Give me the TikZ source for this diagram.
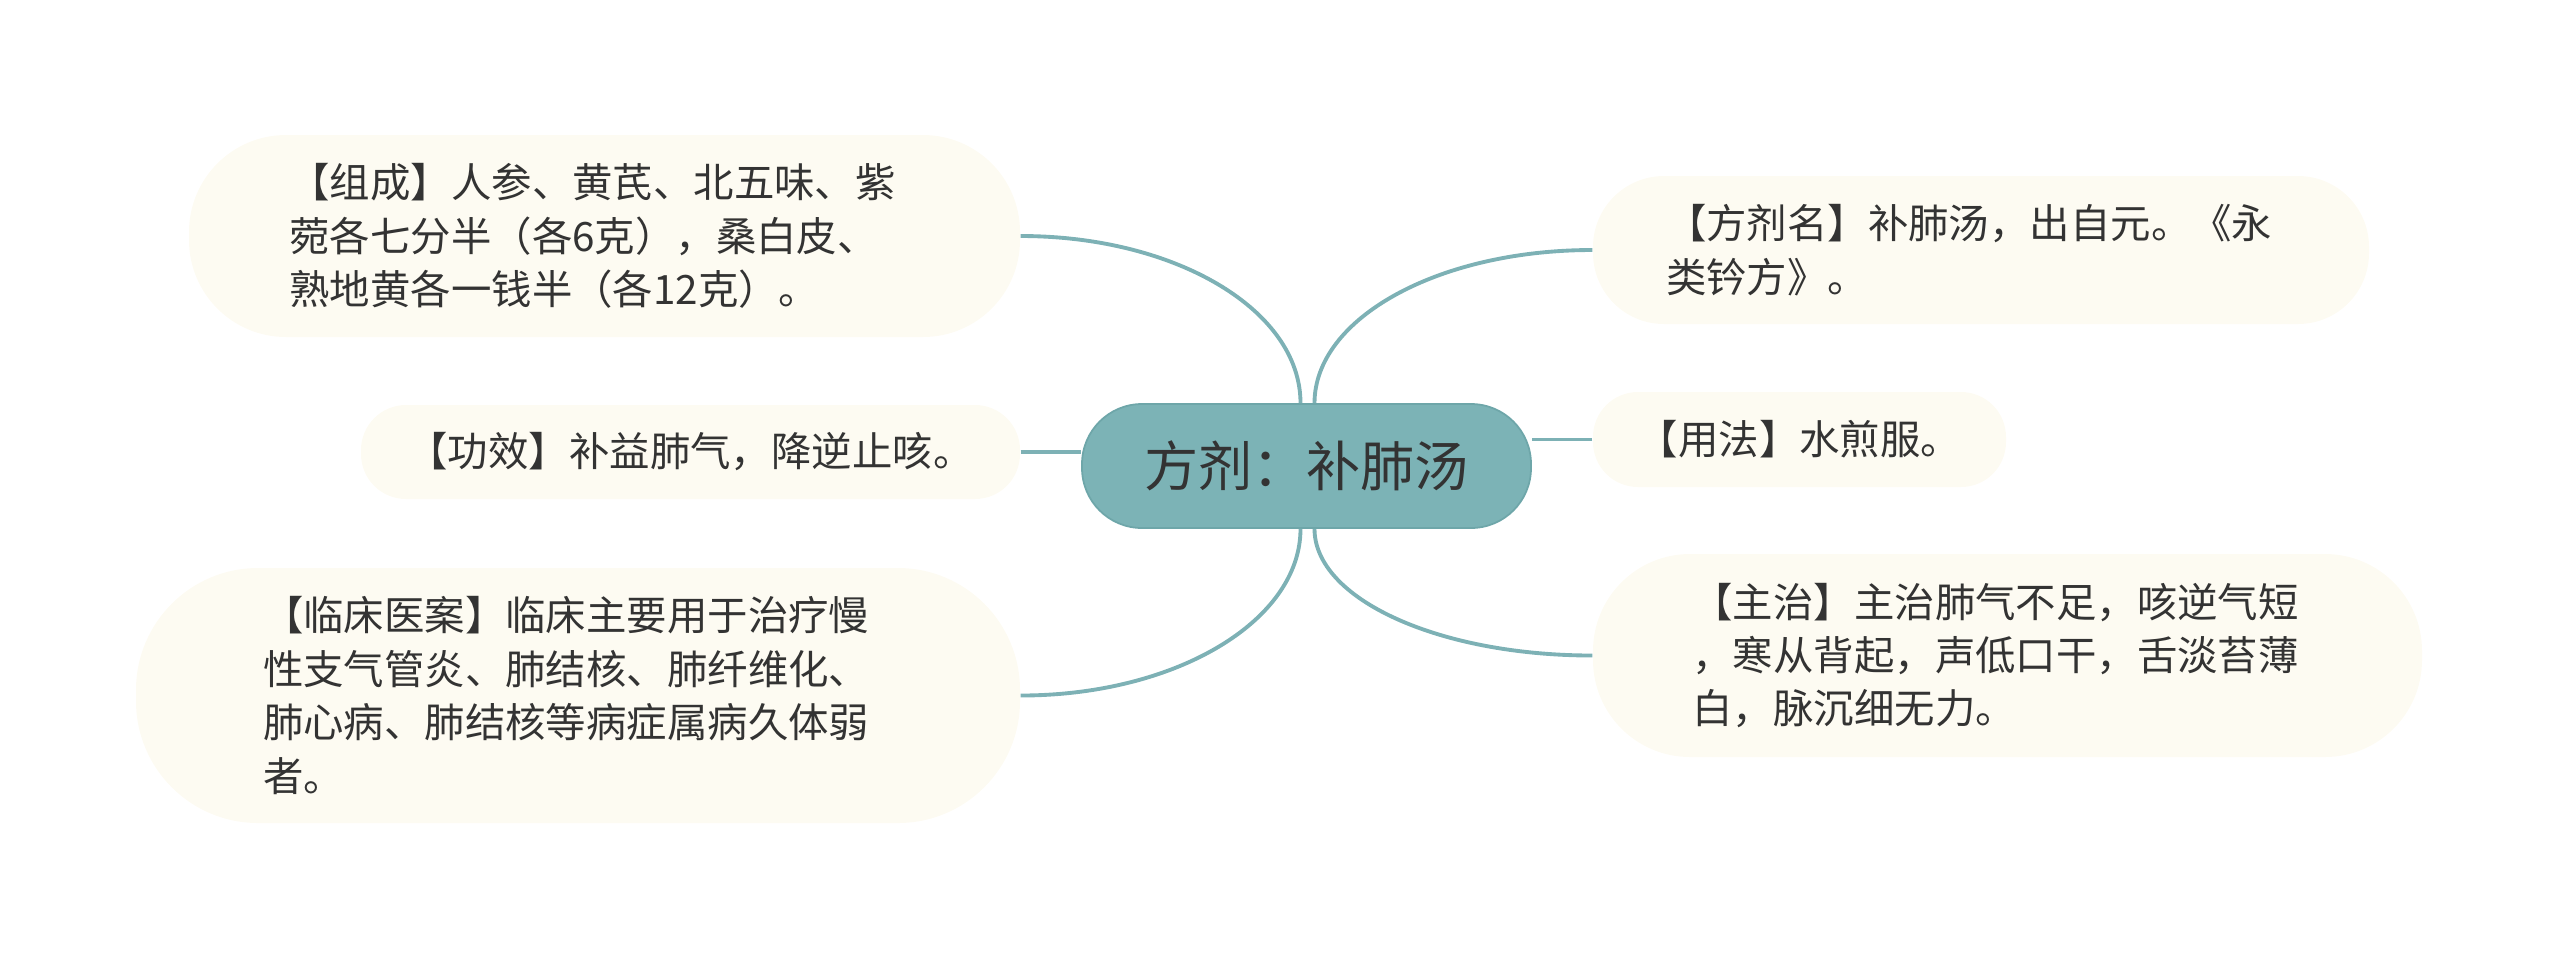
\documentclass[tikz,border=0pt]{standalone}
\usepackage{fontspec}
\newfontfamily\cjk{Noto Sans CJK SC}
\definecolor{leafbg}{HTML}{FDFBF2}
\definecolor{rootbg}{HTML}{7CB3B6}
\definecolor{rootline}{HTML}{6EA6A9}
\definecolor{branchcol}{HTML}{7DB1B5}
\definecolor{textcol}{HTML}{333333}
\begin{document}
\begin{tikzpicture}[
  leaf/.style={fill=leafbg, rounded corners=#1, inner sep=0pt, align=left,
    text=textcol, font=\cjk\fontsize{11.5pt}{15.2pt}\selectfont},
  root/.style={fill=rootbg, draw=rootline, line width=0.5pt, rounded corners=0.6cm,
    minimum width=4.49cm, minimum height=1.24cm, inner sep=0pt,
    text=textcol, font=\cjk\fontsize{15.4pt}{18pt}\selectfont},
  branch/.style={draw=branchcol, line width=1.1pt}
]
\useasboundingbox (0,0) rectangle (25.6,-9.6);

\node [root] (fj) at (13.065,-4.66) {方剂：补肺汤};

\node [leaf=0.97cm, minimum width=8.31cm, minimum height=2.02cm, text width=6.3cm] (zc) at (6.045,-2.36)
  {【组成】人参、黄芪、北五味、紫\\菀各七分半（各6克），桑白皮、\\熟地黄各一钱半（各12克）。};
\node [leaf=0.45cm, minimum width=6.59cm, minimum height=0.94cm] (gx) at (6.905,-4.52)
  {【功效】补益肺气，降逆止咳。};
\node [leaf=1.22cm, minimum width=8.84cm, minimum height=2.55cm, text width=6.3cm] (lc) at (5.78,-6.955)
  {【临床医案】临床主要用于治疗慢\\性支气管炎、肺结核、肺纤维化、\\肺心病、肺结核等病症属病久体弱\\者。};
\node [leaf=0.71cm, minimum width=7.76cm, minimum height=1.48cm, text width=6.3cm] (fjm) at (19.81,-2.50)
  {【方剂名】补肺汤，出自元。《永\\类钤方》。};
\node [leaf=0.45cm, minimum width=4.13cm, minimum height=0.95cm] (yf) at (17.995,-4.395)
  {【用法】水煎服。};
\node [leaf=0.97cm, minimum width=8.29cm, minimum height=2.03cm, text width=6.3cm] (zz) at (20.075,-6.555)
  {【主治】主治肺气不足，咳逆气短\\，寒从背起，声低口干，舌淡苔薄\\白，脉沉细无力。};

% branches to the left
\path [branch] ([xshift=-0.06cm]fj.north) .. controls +(0,0.93) and +(1.55,0) .. (zc.east);
\path [branch] (gx.east) -- (gx.east -| fj.west);
\path [branch] ([xshift=-0.06cm]fj.south) .. controls +(0,-0.92) and +(1.55,0) .. (lc.east);

% branches to the right
\path [branch] ([xshift=0.08cm]fj.north) .. controls +(0,0.85) and +(-1.54,0) .. (fjm.west);
\path [branch] (yf.west) -- (yf.west -| fj.east);
\path [branch] ([xshift=0.08cm]fj.south) .. controls +(0,-0.70) and +(-1.54,0) .. (zz.west);
\end{tikzpicture}
\end{document}
